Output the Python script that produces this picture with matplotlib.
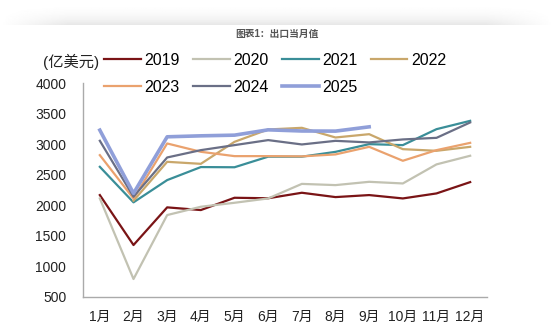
import matplotlib.pyplot as plt
import numpy as np

plt.rcParams['font.family'] = ['Liberation Sans', 'Noto Sans CJK SC', 'DejaVu Sans']

months = ['1月', '2月', '3月', '4月', '5月', '6月', '7月', '8月', '9月', '10月', '11月', '12月']
nan = np.nan

# monthly exports, 100 million USD
y2019 = [2167, 1350, 1966, 1922, 2123, 2115, 2205, 2134, 2167, 2112, 2194, 2379]
y2020 = [2112, 794, 1840, 1976, 2041, 2112, 2350, 2330, 2384, 2357, 2669, 2810]
y2021 = [2629, 2048, 2412, 2625, 2622, 2795, 2795, 2874, 3000, 2984, 3245, 3381]
y2022 = [nan, 2075, 2711, 2678, 3038, 3240, 3267, 3109, 3163, 2918, 2891, 2956]
y2023 = [2820, 2110, 3011, 2875, 2804, 2804, 2800, 2832, 2956, 2728, 2902, 3021]
y2024 = [3055, 2140, 2782, 2902, 2984, 3066, 2995, 3054, 3028, 3077, 3103, 3355]
y2025 = [3229, 2195, 3120, 3136, 3147, 3234, 3215, 3213, 3283]

series = [('2019', y2019, '#7a1416', 1.6),
          ('2020', y2020, '#c2c2b2', 1.6),
          ('2021', y2021, '#3a8e98', 1.6),
          ('2022', y2022, '#c9a76b', 1.6),
          ('2023', y2023, '#eaa26e', 1.6),
          ('2024', y2024, '#6a6f86', 1.6),
          ('2025', y2025, '#909fd9', 2.6)]

fig = plt.figure(figsize=(5.54, 3.33), dpi=100)

# soft shadow band across the top
sh = fig.add_axes([0, 1 - 25 / 333, 1, 25 / 333])
yy = np.linspace(0, 1, 30)[:, None]
xx = np.linspace(0, 1, 300)[None, :]
edge = np.clip(np.minimum(xx, 1 - xx) / 0.12, 0, 1)
shade = 1 - 0.09 * (yy ** 2.5) * edge
sh.imshow(shade, cmap='gray', vmin=0, vmax=1, aspect='auto', origin='upper')
sh.axis('off')

ax = fig.add_axes([83 / 554, 36 / 333, (487 - 83) / 554, (297 - 83) / 333])
x = np.arange(len(months))
lines = {}
for name, vals, col, lw in series:
    lines[name], = ax.plot(x[:len(vals)], vals, color=col, lw=lw, label=name)

ax.set_xlim(-0.5, 11.5)
ax.set_ylim(500, 4000)
ax.set_yticks(np.arange(500, 4001, 500))
ax.set_xticks(x)
ax.set_xticklabels(months)
ax.tick_params(length=0, labelsize=10, colors='#222222')
ax.tick_params(axis='y', pad=12)
ax.tick_params(axis='x', pad=9)
for s in ['top', 'right']:
    ax.spines[s].set_visible(False)
for s in ['left', 'bottom']:
    ax.spines[s].set_color('#aaaaaa')
    ax.spines[s].set_linewidth(1)

fig.text(0.5, 1 - 34 / 333, '图表1：出口当月值', ha='center', va='center',
         fontsize=7, fontweight='bold', color='#555555')
fig.text(43 / 554, 1 - 62 / 333, '(亿美元)', ha='left', va='center',
         fontsize=11, color='#222222')

# legend fills by column, so order it to read row by row
order = ['2019', '2023', '2020', '2024', '2021', '2025', '2022']
fig.legend([lines[k] for k in order], order, loc='upper left',
           bbox_to_anchor=(104 / 554, 1 - 53 / 333), ncol=4,
           frameon=False, fontsize=11.5, handlelength=2.3, handletextpad=0.25,
           columnspacing=0.8, labelspacing=0.75, borderaxespad=0, borderpad=0)

fig.savefig('out.png', dpi=100)
